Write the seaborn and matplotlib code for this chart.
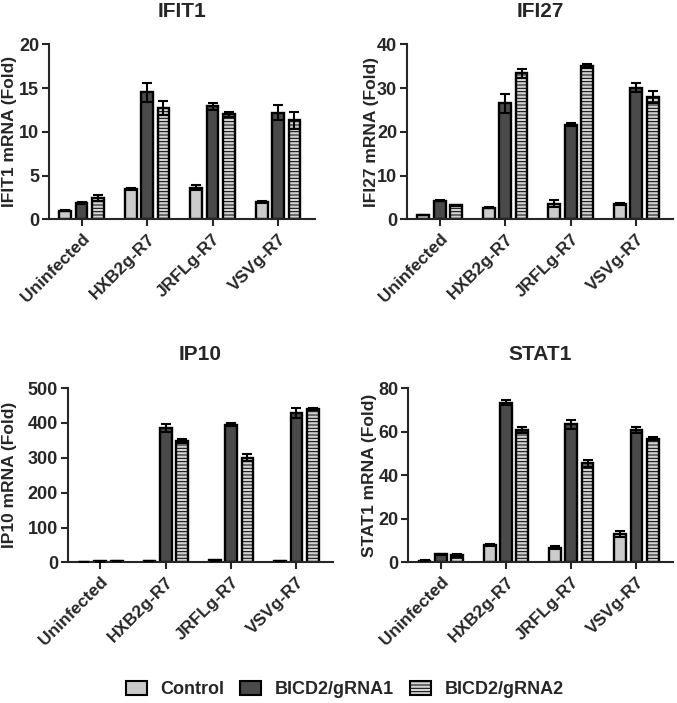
import numpy as np
import pandas as pd
import matplotlib
matplotlib.use('Agg')
import matplotlib.pyplot as plt
import matplotlib.patches as mpatches
import seaborn as sns

sns.set_style('ticks')
plt.rcParams['font.family'] = ['Liberation Sans', 'DejaVu Sans']
plt.rcParams['font.weight'] = 'bold'
plt.rcParams['axes.labelweight'] = 'bold'
plt.rcParams['axes.titleweight'] = 'bold'
plt.rcParams['hatch.linewidth'] = 0.7

infections = ['Uninfected', 'HXB2g-R7', 'JRFLg-R7', 'VSVg-R7']
conditions = ['Control', 'BICD2/gRNA1', 'BICD2/gRNA2']

# fold change (mean and SEM)
ifit1_control = [1.0, 3.45, 3.6, 2.0]
ifit1_grna1 = [1.85, 14.5, 12.9, 12.2]
ifit1_grna2 = [2.45, 12.7, 12.0, 11.3]
ifit1_control_err = [0.05, 0.1, 0.3, 0.1]
ifit1_grna1_err = [0.15, 1.1, 0.4, 0.9]
ifit1_grna2_err = [0.3, 0.8, 0.3, 1.0]

ifi27_control = [1.0, 2.7, 3.6, 3.5]
ifi27_grna1 = [4.3, 26.5, 21.6, 30.1]
ifi27_grna2 = [3.2, 33.4, 35.0, 27.9]
ifi27_control_err = [0.1, 0.2, 0.8, 0.3]
ifi27_grna1_err = [0.2, 2.2, 0.3, 1.1]
ifi27_grna2_err = [0.1, 1.0, 0.4, 1.4]

ip10_control = [1.0, 4.0, 6.0, 4.0]
ip10_grna1 = [3.0, 385.0, 395.0, 428.0]
ip10_grna2 = [4.0, 348.0, 300.0, 440.0]
ip10_control_err = [0.2, 0.5, 1.0, 0.5]
ip10_grna1_err = [0.5, 12.0, 5.0, 14.0]
ip10_grna2_err = [0.5, 6.0, 10.0, 4.0]

stat1_control = [0.8, 8.0, 6.8, 13.2]
stat1_grna1 = [3.8, 73.2, 63.3, 60.8]
stat1_grna2 = [3.2, 60.8, 45.6, 56.8]
stat1_control_err = [0.1, 0.3, 0.5, 1.4]
stat1_grna1_err = [0.2, 1.2, 2.0, 1.2]
stat1_grna2_err = [0.8, 1.2, 1.6, 0.8]

palette = {'Control': '#cbcbcb', 'BICD2/gRNA1': '#4a4a4a', 'BICD2/gRNA2': '#d2d2d2'}
hatches = {'Control': '', 'BICD2/gRNA1': '', 'BICD2/gRNA2': '-----'}


def draw_panel(ax, title, means, errs, ymax, step, label_x):
    rows = []
    for cond, vals in zip(conditions, means):
        for inf, v in zip(infections, vals):
            rows.append({'Infection': inf, 'Condition': cond, 'Fold': v})
    df = pd.DataFrame(rows)

    sns.barplot(data=df, x='Infection', y='Fold', hue='Condition',
                order=infections, hue_order=conditions, palette=palette,
                width=0.75, gap=0.28, edgecolor='black', linewidth=1.7,
                errorbar=None, legend=False, ax=ax)

    for cont, cond, err in zip(ax.containers, conditions, errs):
        xs = []
        hs = []
        for p in cont:
            p.set_hatch(hatches[cond])
            xs.append(p.get_x() + p.get_width() / 2)
            hs.append(p.get_height())
        ax.errorbar(xs, hs, yerr=err, fmt='none', ecolor='black',
                    elinewidth=1.5, capsize=3.8, capthick=1.5, zorder=3)

    ax.set_xlim(-0.5, 3.56)
    ax.set_ylim(0, ymax)
    ax.set_yticks(np.arange(0, ymax + 1, step))
    ax.set_title(title, fontsize=15, pad=20)
    ax.set_xlabel('')
    ax.set_ylabel(title + ' mRNA (Fold)', fontsize=12.5)
    ax.yaxis.set_label_coords(label_x, 0.5)
    ax.tick_params(width=1.5, length=5)
    ax.tick_params(axis='y', labelsize=13, pad=2)
    ax.tick_params(axis='x', labelsize=12.5)
    plt.setp(ax.get_xticklabels(), rotation=45, ha='right',
             rotation_mode='anchor')
    for s in ['left', 'bottom']:
        ax.spines[s].set_linewidth(1.5)
    sns.despine(ax=ax)


fig = plt.figure(figsize=(6.77, 7.03), dpi=100)
ax1 = fig.add_axes([0.072, 0.688, 0.393, 0.249])
ax2 = fig.add_axes([0.601, 0.688, 0.393, 0.249])
ax3 = fig.add_axes([0.100, 0.200, 0.392, 0.248])
ax4 = fig.add_axes([0.603, 0.200, 0.391, 0.248])

draw_panel(ax1, 'IFIT1', [ifit1_control, ifit1_grna1, ifit1_grna2],
           [ifit1_control_err, ifit1_grna1_err, ifit1_grna2_err], 20, 5, -0.12)
draw_panel(ax2, 'IFI27', [ifi27_control, ifi27_grna1, ifi27_grna2],
           [ifi27_control_err, ifi27_grna1_err, ifi27_grna2_err], 40, 10, -0.105)
draw_panel(ax3, 'IP10', [ip10_control, ip10_grna1, ip10_grna2],
           [ip10_control_err, ip10_grna1_err, ip10_grna2_err], 500, 100, -0.19)
draw_panel(ax4, 'STAT1', [stat1_control, stat1_grna1, stat1_grna2],
           [stat1_control_err, stat1_grna1_err, stat1_grna2_err], 80, 20, -0.117)

handles = [mpatches.Patch(facecolor=palette[c], edgecolor='black',
                          linewidth=1.5, hatch=hatches[c]) for c in conditions]
fig.legend(handles, conditions, loc='center', bbox_to_anchor=(0.509, 0.019),
           ncol=3, frameon=False, fontsize=13, handlelength=1.15,
           handleheight=0.85, columnspacing=0.9, handletextpad=0.75)

fig.savefig('out.png', dpi=100)
